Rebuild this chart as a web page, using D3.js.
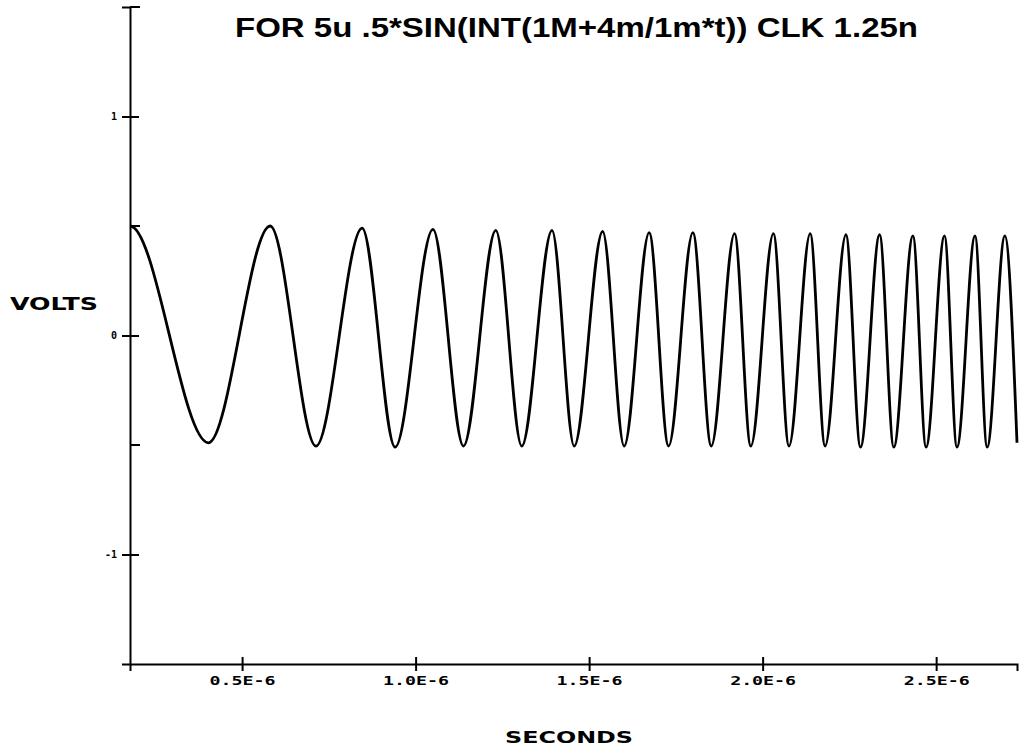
<!DOCTYPE html>
<html>
<head>
<meta charset="utf-8">
<script src="https://cdn.jsdelivr.net/npm/d3@7"></script>
<style>
  body { margin: 0; background: #fff; }
  svg { display: block; }
</style>
</head>
<body>
<div id="chart"></div>
<script>

// tick values and labels
var xTickValues = [0.5e-6, 1.0e-6, 1.5e-6, 2.0e-6, 2.5e-6];
var xTickLabels = ["0.5E-6", "1.0E-6", "1.5E-6", "2.0E-6", "2.5E-6"];
var yTickValues = [-1, 0, 1];
var yTickLabels = ["-1", "0", "1"];
var yMinorTicks = [-0.5, 0.5, 1.5];

// peaks and troughs of the waveform (seconds, volts)
// first entry sits left of the axis so the trace leaves the axis flat; it is clipped
var times = [
  0.000e-6,
  0.177e-6, 0.403e-6, 0.581e-6, 0.713e-6, 0.846e-6, 0.941e-6, 1.050e-6,
  1.138e-6, 1.231e-6, 1.306e-6, 1.393e-6, 1.457e-6, 1.539e-6, 1.601e-6,
  1.673e-6, 1.729e-6, 1.799e-6, 1.852e-6, 1.919e-6, 1.966e-6, 2.031e-6,
  2.076e-6, 2.137e-6, 2.180e-6, 2.240e-6, 2.282e-6, 2.337e-6, 2.378e-6,
  2.433e-6, 2.471e-6, 2.524e-6, 2.560e-6, 2.612e-6, 2.647e-6, 2.698e-6,
  2.733e-6
];
var volts = [
  -0.49,
  0.50, -0.49, 0.50, -0.505, 0.49, -0.51, 0.485,
  -0.505, 0.48, -0.505, 0.48, -0.505, 0.475, -0.505,
  0.47, -0.505, 0.47, -0.505, 0.465, -0.505, 0.465,
  -0.505, 0.465, -0.505, 0.46, -0.51, 0.46, -0.51,
  0.455, -0.51, 0.455, -0.51, 0.455, -0.51, 0.455,
  -0.49
];

var width = 1019, height = 755;

var svg = d3.select("#chart").append("svg")
  .attr("width", width)
  .attr("height", height)
  .style("background", "#fff");

var x = d3.scaleLinear()
  .domain([0.177e-6, 2.733e-6])
  .range([130, 1017]);

var y = d3.scaleLinear()
  .domain([-1.5, 1.5])
  .range([664, 7]);

var monoFont = "'DejaVu Sans Mono', monospace";

svg.append("clipPath")
  .attr("id", "plotArea")
  .append("rect")
    .attr("x", x.range()[0])
    .attr("y", 0)
    .attr("width", width - x.range()[0])
    .attr("height", height);

// bottom axis
var xAxis = svg.append("g")
  .attr("transform", "translate(0," + y(-1.5) + ")")
  .call(d3.axisBottom(x)
    .tickValues(xTickValues)
    .tickFormat(function(d, i) { return xTickLabels[i]; })
    .tickSizeOuter(0)
    .tickSize(7));

xAxis.select(".domain").attr("stroke", "#000").attr("stroke-width", 2);
xAxis.selectAll(".tick line")
  .attr("y1", -7).attr("y2", 7)
  .attr("stroke", "#000").attr("stroke-width", 2);
xAxis.selectAll(".tick text")
  .attr("y", 21).attr("dy", 0)
  .attr("fill", "#000")
  .style("font-family", monoFont)
  .style("font-weight", "bold")
  .style("font-size", "12px")
  .attr("textLength", 66)
  .attr("lengthAdjust", "spacingAndGlyphs");

// left axis
var yAxis = svg.append("g")
  .attr("transform", "translate(" + x.range()[0] + ",0)")
  .call(d3.axisLeft(y)
    .tickValues(yTickValues)
    .tickFormat(function(d, i) { return yTickLabels[i]; })
    .tickSizeOuter(0)
    .tickSize(8));

yAxis.select(".domain").attr("stroke", "#000").attr("stroke-width", 2);
yAxis.selectAll(".tick line")
  .attr("x1", -8).attr("x2", 9)
  .attr("stroke", "#000").attr("stroke-width", 2);
yAxis.selectAll(".tick text")
  .attr("x", -13)
  .attr("fill", "#000")
  .style("font-family", monoFont)
  .style("font-weight", "bold")
  .style("font-size", "10px");

// small inside ticks
svg.append("g").selectAll("line")
  .data(yMinorTicks)
  .enter().append("line")
    .attr("x1", x.range()[0])
    .attr("x2", x.range()[0] + 10)
    .attr("y1", function(d) { return y(d); })
    .attr("y2", function(d) { return y(d); })
    .attr("stroke", "#000")
    .attr("stroke-width", 2);

// waveform
var points = times.map(function(t, i) { return [t, volts[i]]; });

var line = d3.line()
  .x(function(d) { return x(d[0]); })
  .y(function(d) { return y(d[1]); })
  .curve(d3.curveMonotoneX);

svg.append("path")
  .datum(points)
  .attr("clip-path", "url(#plotArea)")
  .attr("d", line)
  .attr("fill", "none")
  .attr("stroke", "#000")
  .attr("stroke-width", 2.8)
  .attr("stroke-linejoin", "round");

// titles
svg.append("text")
  .attr("x", 235)
  .attr("y", 37)
  .style("font-family", "'Liberation Sans', Arial, sans-serif")
  .style("font-weight", "bold")
  .style("font-size", "27px")
  .attr("textLength", 683)
  .attr("lengthAdjust", "spacingAndGlyphs")
  .text("FOR 5u .5*SIN(INT(1M+4m/1m*t)) CLK 1.25n");

svg.append("text")
  .attr("x", 10)
  .attr("y", 310)
  .style("font-family", "'DejaVu Sans', sans-serif")
  .style("font-size", "18px")
  .style("font-weight", "bold")
  .attr("textLength", 88)
  .attr("lengthAdjust", "spacingAndGlyphs")
  .text("VOLTS");

svg.append("text")
  .attr("x", 505)
  .attr("y", 743)
  .style("font-family", "'DejaVu Sans', sans-serif")
  .style("font-size", "16px")
  .style("font-weight", "bold")
  .attr("textLength", 128)
  .attr("lengthAdjust", "spacingAndGlyphs")
  .text("SECONDS");

</script>
</body>
</html>
